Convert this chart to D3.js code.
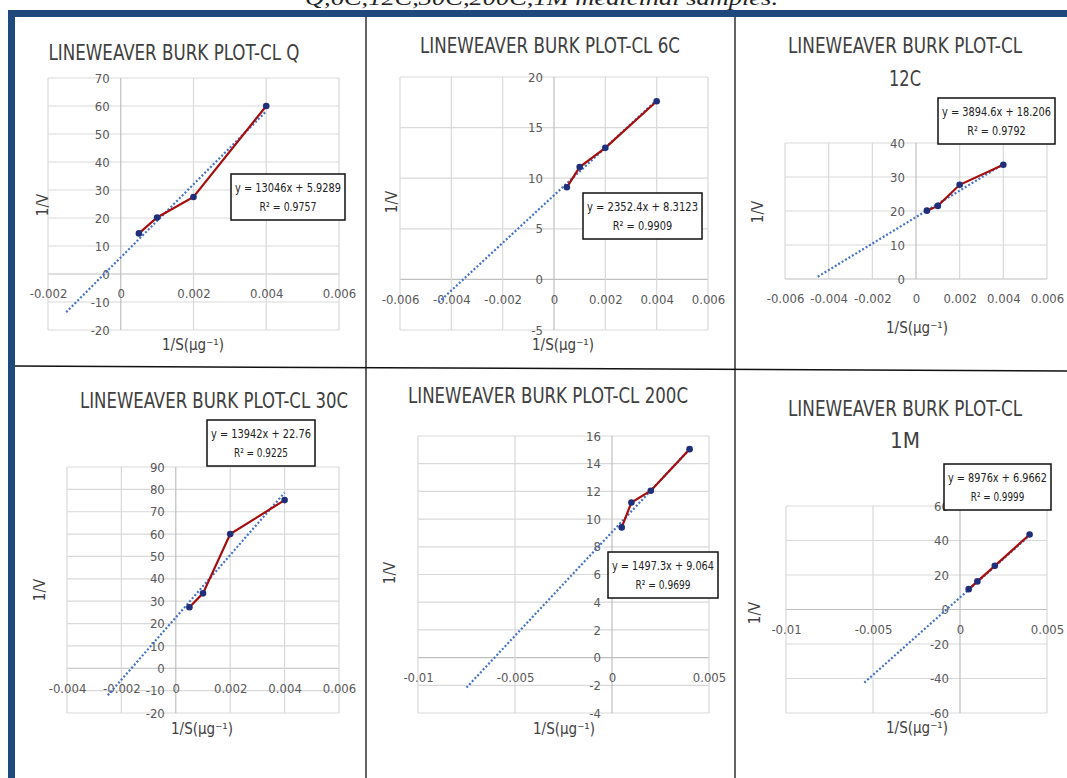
<!DOCTYPE html>
<html>
<head>
<meta charset="utf-8">
<script src="https://cdn.jsdelivr.net/npm/d3@7"></script>
<style>
  body { margin: 0; background: #fff; }
  svg { display: block; }
</style>
</head>
<body>
<svg id="chart"></svg>
<script>
// ---- data ----
const panelNames = ["Q", "6C", "12C", "30C", "200C", "1M"];
const substrateInv = [0.0005, 0.001, 0.002, 0.004];   // 1/S
const rateQ = [14.5, 20.2, 27.5, 60];
const rate6C = [9.1, 11.1, 13.0, 17.6];
const rate12C = [20.1, 21.5, 27.7, 33.6];
const rate30C = [27.3, 33.5, 60, 75.2];
const rate200C = [9.4, 11.2, 12.05, 15.05];
const rate1M = [11.8, 16.3, 25.3, 43.5];
const rates = [rateQ, rate6C, rate12C, rate30C, rate200C, rate1M];

const slopes = [13046, 2352.4, 3894.6, 13942, 1497.3, 8976];
const intercepts = [5.9289, 8.3123, 18.206, 22.76, 9.064, 6.9662];
const rSquared = [0.9757, 0.9909, 0.9792, 0.9225, 0.9699, 0.9999];
const trendFrom = [-0.0015, -0.0045, -0.0045, -0.0025, -0.0075, -0.0055];

const xTicksQ = [-0.002, 0, 0.002, 0.004, 0.006];
const xTicks6C = [-0.006, -0.004, -0.002, 0, 0.002, 0.004, 0.006];
const xTicks12C = [-0.006, -0.004, -0.002, 0, 0.002, 0.004, 0.006];
const xTicks30C = [-0.004, -0.002, 0, 0.002, 0.004, 0.006];
const xTicks200C = [-0.01, -0.005, 0, 0.005];
const xTicks1M = [-0.01, -0.005, 0, 0.005];
const xTicks = [xTicksQ, xTicks6C, xTicks12C, xTicks30C, xTicks200C, xTicks1M];

const yTicksQ = [-20, -10, 0, 10, 20, 30, 40, 50, 60, 70];
const yTicks6C = [-5, 0, 5, 10, 15, 20];
const yTicks12C = [0, 10, 20, 30, 40];
const yTicks30C = [-20, -10, 0, 10, 20, 30, 40, 50, 60, 70, 80, 90];
const yTicks200C = [-4, -2, 0, 2, 4, 6, 8, 10, 12, 14, 16];
const yTicks1M = [-60, -40, -20, 0, 20, 40, 60];
const yTicks = [yTicksQ, yTicks6C, yTicks12C, yTicks30C, yTicks200C, yTicks1M];

const titlePrefix = "LINEWEAVER BURK PLOT-CL";
const caption = "Q,6C,12C,30C,200C,1M medicinal samples.";

// ---- layout (pixels) ----
const W = 1067, H = 778;
const layout = [
  { l: 48,  r: 339,  t: 78,  b: 330, tx: 174, ty: [52],      tw: [251], box: [231, 174, 114, 46], xl: [193, 345], yl: [43, 205] },
  { l: 400, r: 708,  t: 77,  b: 330, tx: 550, ty: [45],      tw: [260], box: [583, 193, 119, 46], xl: [563, 345], yl: [392, 202] },
  { l: 785, r: 1047, t: 143, b: 279, tx: 905, ty: [45, 78],  tw: [234, 32], box: [938, 98, 117, 46], xl: [917, 328], yl: [758, 212] },
  { l: 67,  r: 339,  t: 467, b: 713, tx: 214, ty: [400],     tw: [268], box: [207, 420, 108, 46], xl: [202, 729], yl: [40, 590] },
  { l: 418, r: 709,  t: 436, b: 713, tx: 548, ty: [395],     tw: [280], box: [608, 552, 110, 46], xl: [564, 729], yl: [390, 573] },
  { l: 786, r: 1047, t: 506, b: 713, tx: 905, ty: [408, 440], tw: [234, 30], box: [944, 464, 107, 46], xl: [917, 728], yl: [755, 613] }
];

const font = "'Liberation Sans Narrow', 'DejaVu Sans Condensed', 'Open Sans', sans-serif";
const gridColor = "#d9d9d9";
const textColor = "#595959";

const svg = d3.select("#chart")
  .attr("width", W)
  .attr("height", H)
  .style("font-family", font);

svg.append("rect").attr("width", W).attr("height", H).attr("fill", "#fff");

// caption cut off at the top of the page
svg.append("text")
  .attr("x", 305)
  .attr("y", 5)
  .attr("textLength", 473)
  .attr("lengthAdjust", "spacingAndGlyphs")
  .style("font-family", "'Liberation Serif', 'DejaVu Serif', serif")
  .style("font-style", "italic")
  .style("font-size", "22px")
  .attr("fill", "#222")
  .text(caption);

panelNames.forEach(function(name, i) {
  const L = layout[i];
  const xt = xTicks[i], yt = yTicks[i];
  const x = d3.scaleLinear().domain([xt[0], xt[xt.length - 1]]).range([L.l, L.r]);
  const y = d3.scaleLinear().domain([yt[0], yt[yt.length - 1]]).range([L.b, L.t]);
  const g = svg.append("g").attr("class", "panel");

  // gridlines
  g.selectAll(".hgrid").data(yt).enter().append("line")
    .attr("x1", L.l).attr("x2", L.r)
    .attr("y1", d => y(d)).attr("y2", d => y(d))
    .attr("stroke", d => d === 0 ? "#bfbfbf" : gridColor)
    .attr("stroke-width", 1.2);
  g.selectAll(".vgrid").data(xt).enter().append("line")
    .attr("y1", L.t).attr("y2", L.b)
    .attr("x1", d => x(d)).attr("x2", d => x(d))
    .attr("stroke", d => d === 0 ? "#bfbfbf" : gridColor)
    .attr("stroke-width", 1.2);

  // tick labels (Excel style: next to the zero axes)
  const xAxis = g.append("g")
    .attr("transform", `translate(0,${y(0) + 15})`)
    .call(d3.axisBottom(x).tickValues(xt).tickSize(0).tickPadding(0).tickFormat(d => String(d)));
  const yAxis = g.append("g")
    .attr("transform", `translate(${x(0) - 11},0)`)
    .call(d3.axisLeft(y).tickValues(yt).tickSize(0).tickPadding(0).tickFormat(d => String(d)));
  [xAxis, yAxis].forEach(function(a) {
    a.select(".domain").remove();
    a.selectAll("text")
      .style("font-family", font)
      .style("font-size", "13px")
      .attr("fill", textColor);
  });

  // trendline (linear fit, dotted)
  const trendX = [trendFrom[i], substrateInv[substrateInv.length - 1]];
  g.append("line")
    .attr("x1", x(trendX[0])).attr("y1", y(slopes[i] * trendX[0] + intercepts[i]))
    .attr("x2", x(trendX[1])).attr("y2", y(slopes[i] * trendX[1] + intercepts[i]))
    .attr("stroke", "#4472c4")
    .attr("stroke-width", 2.2)
    .attr("stroke-dasharray", "2,2");

  // data line + markers
  const pts = substrateInv.map((s, k) => [s, rates[i][k]]);
  g.append("path")
    .datum(pts)
    .attr("fill", "none")
    .attr("stroke", "#a50e0e")
    .attr("stroke-width", 2.2)
    .attr("d", d3.line().x(d => x(d[0])).y(d => y(d[1])));
  g.selectAll(".pt").data(pts).enter().append("circle")
    .attr("cx", d => x(d[0])).attr("cy", d => y(d[1]))
    .attr("r", 3.3)
    .attr("fill", "#1f2f7a");

  // title
  const lines = L.ty.length > 1 ? [titlePrefix, name] : [titlePrefix + " " + name];
  lines.forEach(function(t, k) {
    g.append("text")
      .attr("x", L.tx).attr("y", L.ty[k]).attr("dy", "0.36em")
      .attr("text-anchor", "middle")
      .attr("textLength", L.tw[k])
      .attr("lengthAdjust", "spacingAndGlyphs")
      .style("font-size", "22px")
      .attr("fill", "#404040")
      .text(t);
  });

  // axis titles
  g.append("text")
    .attr("x", L.xl[0]).attr("y", L.xl[1]).attr("dy", "0.36em")
    .attr("text-anchor", "middle")
    .style("font-size", "15px")
    .attr("fill", "#404040")
    .text("1/S(μg⁻¹)");
  g.append("text")
    .attr("transform", `translate(${L.yl[0]},${L.yl[1]}) rotate(-90)`)
    .attr("dy", "0.36em")
    .attr("text-anchor", "middle")
    .style("font-size", "15px")
    .attr("fill", "#404040")
    .text("1/V");

  // equation box
  const b = L.box;
  g.append("rect")
    .attr("x", b[0]).attr("y", b[1]).attr("width", b[2]).attr("height", b[3])
    .attr("fill", "#fff").attr("stroke", "#111").attr("stroke-width", 1.5);
  const eq = ["y = " + slopes[i] + "x + " + intercepts[i], "R² = " + rSquared[i]];
  eq.forEach(function(t, k) {
    g.append("text")
      .attr("x", b[0] + b[2] / 2)
      .attr("y", b[1] + b[3] * (k === 0 ? 0.3 : 0.72))
      .attr("dy", "0.36em")
      .attr("text-anchor", "middle")
      .attr("textLength", k === 0 ? b[2] - 8 : b[2] * 0.5)
      .attr("lengthAdjust", "spacingAndGlyphs")
      .style("font-size", "12px")
      .attr("fill", "#222")
      .text(t);
  });
});

// page frame
svg.append("rect").attr("x", 8).attr("y", 10).attr("width", W - 8).attr("height", 7).attr("fill", "#1f497d");
svg.append("rect").attr("x", 8).attr("y", 10).attr("width", 7).attr("height", H - 10).attr("fill", "#1f497d");
[366, 735].forEach(function(vx) {
  svg.append("line").attr("x1", vx).attr("x2", vx).attr("y1", 17).attr("y2", H)
    .attr("stroke", "#111").attr("stroke-width", 1.3);
});
svg.append("line").attr("x1", 15).attr("y1", 366).attr("x2", W).attr("y2", 371)
  .attr("stroke", "#111").attr("stroke-width", 1.5);
</script>
</body>
</html>
